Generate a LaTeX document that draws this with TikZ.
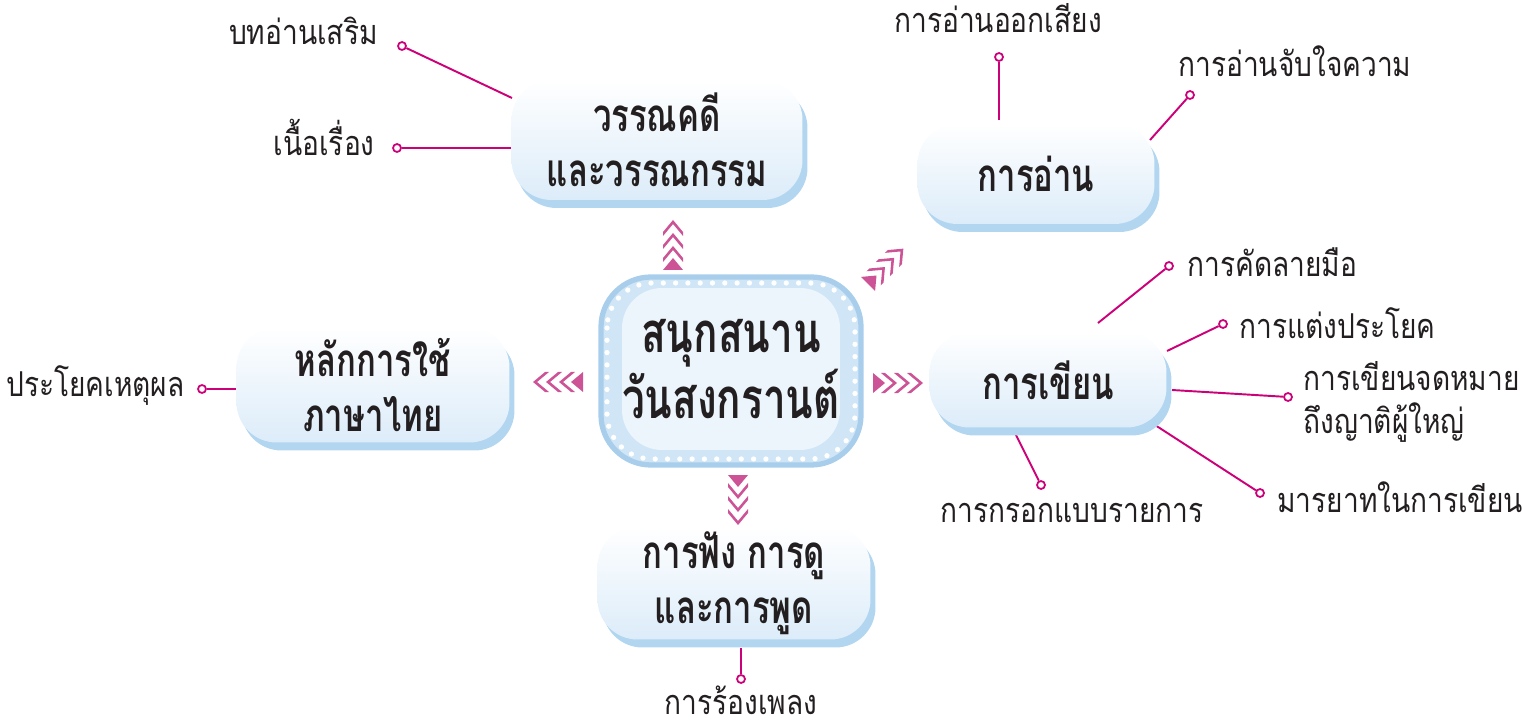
\documentclass[tikz,border=0pt]{standalone}
\usepackage{fontspec}
\usepackage{tikz}
\usetikzlibrary{shadows}
\newfontfamily\thai[Script=Thai,FakeStretch=0.82]{Loma}
\newfontfamily\thaihead[Script=Thai,FakeStretch=0.72]{Loma}

\tikzset{
  topic/.style={rounded corners=0.8cm, top color=white, bottom color=boxblue, inner sep=0pt,
    drop shadow={shadow xshift=0.1cm, shadow yshift=-0.16cm, fill=shadowblue, opacity=1},
    font=\thaihead\bfseries\fontsize{26}{31}\selectfont, align=center, text=inkdark},
  hub/.style={rounded corners=0.8cm, fill=hubcore, inner sep=0pt,
    minimum width=4.36cm, minimum height=3.24cm,
    font=\thaihead\bfseries\fontsize{32}{34}\selectfont, align=center, text=inkdark},
  leaf/.style={inner sep=0pt, font=\thai\fontsize{19.5}{24}\selectfont, text=inkdark},
  dot/.style={circle, draw=twig, fill=white, line width=1pt, inner sep=0pt, minimum size=0.16cm},
  twig/.style={draw=twig, line width=1.1pt},
  pics/ray/.style={code={
    \fill[raypink] (0,10) -- (12,0) -- (0,-10) -- cycle;
    \foreach \t in {24,37,50}
      \fill[raypink] (\t-12,10) -- (\t,0) -- (\t-12,-10) -- (\t-16,-10) -- (\t-4,0) -- (\t-16,10) -- cycle;
  }}
}

\begin{document}
\begin{tikzpicture}[x=0.02cm, y=-0.02cm]

        % Define colors
        \definecolor{boxblue}{RGB}{220,236,249} % Box bottom
        \definecolor{shadowblue}{RGB}{178,214,240} % Box shadow
        \definecolor{hubedge}{RGB}{168,206,236} % Hub outline
        \definecolor{hubband}{RGB}{208,230,246} % Hub band
        \definecolor{hubcore}{RGB}{236,245,252} % Hub inside
        \definecolor{raypink}{RGB}{204,84,150} % Arrows
        \definecolor{twig}{RGB}{204,0,120} % Label lines
        \definecolor{inkdark}{RGB}{35,31,32} % Text

        % Fix page size
        \useasboundingbox (0,0) rectangle (1523,722);

        % Hub frame with dotted ring
        \filldraw[hubband, draw=hubedge, line width=3pt, rounded corners=1cm] (601,277) rectangle (861,465);
        \draw[white, line width=3pt, line cap=round, dash pattern=on 0pt off 7pt, rounded corners=0.9cm] (607,283) rectangle (855,459);

        % Hub
        \node[hub] (hub) at (731,369) {สนุกสนาน\\วันสงกรานต์};

        % Dots
        \node[dot] (d-extra) at (402,46) {};
        \node[dot] (d-story) at (397,148) {};
        \node[dot] (d-aloud) at (999,57) {};
        \node[dot] (d-gist) at (1190,95) {};
        \node[dot] (d-hand) at (1169,266) {};
        \node[dot] (d-sent) at (1223,324) {};
        \node[dot] (d-letter) at (1288,397) {};
        \node[dot] (d-manner) at (1260,493) {};
        \node[dot] (d-form) at (1041,485) {};
        \node[dot] (d-cause) at (202,389) {};
        \node[dot] (d-song) at (741,679) {};

        % Labels
        \node[leaf, anchor=east] (l-extra) at (378,31) {บทอ่านเสริม};
        \node[leaf, anchor=east] (l-story) at (375,137) {เนื้อเรื่อง};
        \node[leaf] (l-aloud) at (998,18) {การอ่านออกเสียง};
        \node[leaf, anchor=west] (l-gist) at (1178,61) {การอ่านจับใจความ};
        \node[leaf, anchor=west] (l-hand) at (1187,262) {การคัดลายมือ};
        \node[leaf, anchor=west] (l-sent) at (1239,323) {การแต่งประโยค};
        \node[leaf, anchor=west, align=left] (l-letter) at (1303,402) {การเขียนจดหมาย\\ถึงญาติผู้ใหญ่};
        \node[leaf, anchor=west] (l-manner) at (1277,497) {มารยาทในการเขียน};
        \node[leaf] (l-form) at (1072,513) {การกรอกแบบรายการ};
        \node[leaf, anchor=east] (l-cause) at (185,386) {ประโยคเหตุผล};
        \node[leaf] (l-song) at (741,700) {การร้องเพลง};

        % Line ends at the boxes
        \coordinate (e-extra) at (512,98);
        \coordinate (e-story) at (512,148);
        \coordinate (e-aloud) at (999,120);
        \coordinate (e-gist) at (1150,140);
        \coordinate (e-hand) at (1098,323);
        \coordinate (e-sent) at (1167,351);
        \coordinate (e-letter) at (1172,390);
        \coordinate (e-manner) at (1155,425);
        \coordinate (e-form) at (1015,433);
        \coordinate (e-cause) at (237,389);
        \coordinate (e-song) at (741,648);

        % Label lines
        \foreach \n in {extra,story,aloud,gist,hand,sent,letter,manner,form,cause,song}
          \draw[twig] (d-\n) -- (e-\n);

        % Topic boxes
        \node[topic, minimum width=5.82cm, minimum height=2.4cm] (lit) at (657,140) {วรรณคดี\\และวรรณกรรม};
        \node[topic, minimum width=4.74cm, minimum height=2cm] (read) at (1036,174) {การอ่าน};
        \node[topic, minimum width=4.74cm, minimum height=1.9cm] (write) at (1048,380) {การเขียน};
        \node[topic, minimum width=5.46cm, minimum height=2.3cm] (usage) at (373,385) {หลักการใช้\\ภาษาไทย};
        \node[topic, minimum width=5.46cm, minimum height=2.26cm] (talk) at (734,583) {การฟัง การดู\\และการพูด};

        % Arrows out of the hub
        \pic[rotate=90] at (673,270) {ray};
        \pic[rotate=45] at (868,284) {ray};
        \pic at (873,383) {ray};
        \pic[rotate=180] at (583,382) {ray};
        \pic[rotate=-90] at (738,475) {ray};
        \end{tikzpicture}
\end{document}
